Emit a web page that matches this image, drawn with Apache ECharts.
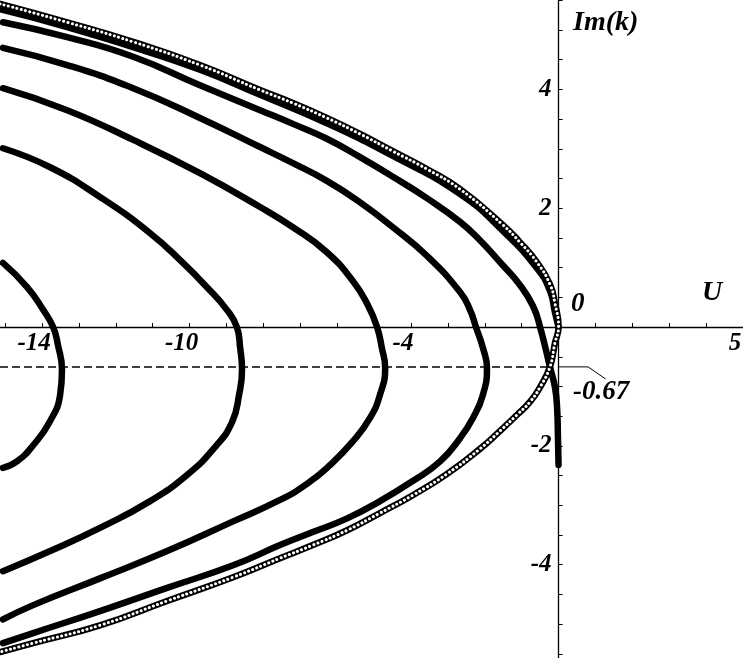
<!DOCTYPE html>
<html>
<head>
<meta charset="utf-8">
<script src="https://cdn.jsdelivr.net/npm/echarts@6/dist/echarts.min.js"></script>
<style>
  html, body { margin: 0; padding: 0; background: #fff; }
  #chart { width: 743px; height: 658px; }
</style>
</head>
<body>
<div id="chart"></div>
<script>
// axis ranges and ticks (U horizontal, Im(k) vertical)
const xRange = [-15.14, 5]
const yRange = [-5.57, 5.505]
const xTicks = [-15, -14, -13, -12, -11, -10, -9, -8, -7, -6, -5, -4, -3, -2, -1, 0, 1, 2, 3, 4, 5]
const xTickLabels = [-14, -10, -4, 5]
const yTicks = [-5.5, -5, -4.5, -4, -3.5, -3, -2.5, -2, -1.5, -1, -0.5, 0, 0.5, 1, 1.5, 2, 2.5, 3, 3.5, 4, 4.5, 5, 5.5]
const yTickLabels = [4, 2, -2, -4]

// open-circle branch, top-left -> origin -> bottom-left
const curveHollow = [[-15.14, 5.44], [-13.32, 5.13], [-11.53, 4.80], [-9.72, 4.41], [-8.09, 3.99], [-7.20, 3.77],
  [-6.28, 3.52], [-5.38, 3.25], [-4.49, 2.96], [-3.57, 2.66], [-2.67, 2.32], [-1.51, 1.72], [-1.05, 1.43],
  [-0.585, 1.09], [-0.233, 0.72], [-0.098, 0.40], [0, 0], [-0.098, -0.27], [-0.233, -0.67], [-0.50, -1.01],
  [-0.775, -1.26], [-1.13, -1.48], [-1.59, -1.75], [-2.13, -2.05], [-3.02, -2.47], [-3.95, -2.83], [-4.84, -3.13],
  [-5.73, -3.42], [-6.66, -3.67], [-7.55, -3.89], [-8.82, -4.21], [-10.61, -4.61], [-12.43, -5.02],
  [-14.24, -5.32], [-15.14, -5.47]]

// filled branch lying just under the open circles
const curveF = [[-15.14, 5.35], [-13.32, 5.05], [-11.53, 4.71], [-9.72, 4.33], [-8.09, 3.91], [-6.28, 3.43],
  [-4.49, 2.88], [-2.67, 2.24], [-1.51, 1.62], [-0.585, 0.99], [-0.233, 0.61], [-0.098, 0.25], [0, 0]]

const curveA = [[-15.06, 5.13], [-13.32, 4.88], [-11.53, 4.55], [-9.72, 4.07], [-8.09, 3.65], [-7.20, 3.42],
  [-6.28, 3.17], [-5.38, 2.86], [-4.49, 2.53], [-3.57, 2.17], [-2.67, 1.77], [-2.13, 1.46], [-1.51, 1.04],
  [-1.05, 0.71], [-0.69, 0.35], [-0.50, 0], [-0.233, -0.67], [-0.098, -1.01], [-0.04, -1.35],
  [-0.016, -1.85], [0, -2.32]]

const curveB = [[-15.06, 4.70], [-13.32, 4.41], [-11.53, 4.02], [-9.72, 3.52], [-8.09, 3.03], [-7.20, 2.76],
  [-6.28, 2.46], [-5.38, 2.10], [-4.49, 1.68], [-3.57, 1.20], [-2.67, 0.59], [-2.40, 0.29], [-2.24, 0],
  [-2.05, -0.35], [-1.94, -0.69], [-2.05, -1.14], [-2.32, -1.53], [-2.67, -1.87], [-3.21, -2.26], [-3.95, -2.59],
  [-4.84, -2.93], [-5.73, -3.22], [-6.66, -3.45], [-7.55, -3.67], [-8.82, -4.01], [-10.61, -4.39],
  [-12.43, -4.78], [-14.24, -5.15], [-15.06, -5.32]]

const curveC = [[-15.06, 4.02], [-13.32, 3.65], [-11.53, 3.15], [-9.72, 2.59], [-8.09, 2.02], [-7.20, 1.68],
  [-6.28, 1.26], [-5.57, 0.77], [-5.17, 0.37], [-4.92, 0], [-4.79, -0.35], [-4.70, -0.69], [-4.84, -1.14],
  [-5.11, -1.53], [-5.57, -1.92], [-6.19, -2.32], [-6.82, -2.64], [-7.55, -2.91], [-8.82, -3.27],
  [-10.61, -3.77], [-12.43, -4.23], [-14.24, -4.68], [-15.06, -4.92]]

const curveD = [[-15.06, 3.01], [-13.78, 2.69], [-12.43, 2.19], [-11.07, 1.58], [-10.18, 1.08], [-9.53, 0.67],
  [-8.99, 0.29], [-8.72, 0], [-8.63, -0.35], [-8.58, -0.72], [-8.66, -1.14], [-8.85, -1.60], [-9.31, -2.02],
  [-10.07, -2.49], [-11.07, -2.93], [-12.43, -3.38], [-13.78, -3.77], [-15.06, -4.11]]

const curveE = [[-15.06, 1.08], [-14.40, 0.67], [-13.97, 0.29], [-13.70, 0], [-13.57, -0.30], [-13.46, -0.72],
  [-13.51, -1.14], [-13.78, -1.58], [-14.24, -1.99], [-14.68, -2.26], [-15.06, -2.37]]

// Im(k) = -0.67 guide and its callout
const guideLine = [[-15.14, -0.67], [-0.2, -0.67]]
const calloutLine = [[0, -0.67], [0.8, -0.67], [1.28, -0.875]]

const W = 743, H = 658
const FONT = '"Liberation Serif", "Times New Roman", serif'
const labelStyle = { fontFamily: FONT, fontStyle: 'italic', fontWeight: 'bold', fontSize: 25, color: '#000' }
const SMOOTH = 0.5

// put each axis through the other one's zero (v6 keeps labels at the edge with onZero)
const xAxisOffset = -H * (0 - yRange[0]) / (yRange[1] - yRange[0])
const yAxisOffset = -W * (0 - xRange[0]) / (xRange[1] - xRange[0])

function filled(data) {
  return {
    type: 'line', data, showSymbol: false, smooth: SMOOTH, silent: true,
    lineStyle: { color: '#000', width: 6.5, cap: 'round', join: 'round' },
  }
}

const chart = echarts.init(document.getElementById('chart'), null, { renderer: 'canvas' })

chart.setOption({
  animation: false,
  backgroundColor: '#fff',
  grid: { left: 0, right: 0, top: 0, bottom: 0, containLabel: false, outerBoundsMode: 'none' },
  xAxis: {
    type: 'value', min: xRange[0], max: xRange[1], position: 'bottom', offset: xAxisOffset,
    axisLine: { onZero: false, lineStyle: { color: '#000', width: 1.3 } },
    axisTick: { customValues: xTicks, inside: true, length: 4, lineStyle: { color: '#000' } },
    axisLabel: { customValues: xTickLabels, ...labelStyle, margin: 4, padding: [0, 16, 0, 0] },
    splitLine: { show: false },
  },
  yAxis: {
    type: 'value', min: yRange[0], max: yRange[1], position: 'left', offset: yAxisOffset,
    axisLine: { onZero: false, lineStyle: { color: '#000', width: 1.3 } },
    axisTick: { customValues: yTicks, inside: true, length: 4, lineStyle: { color: '#000' } },
    axisLabel: { customValues: yTickLabels, ...labelStyle, margin: 7 },
    splitLine: { show: false },
  },
  series: [
    {
      type: 'line', data: guideLine, showSymbol: false, silent: true,
      lineStyle: { color: '#000', width: 1.5, type: [8, 4] },
    },
    {
      type: 'line', data: calloutLine, showSymbol: false, silent: true,
      lineStyle: { color: '#000', width: 1 },
    },
    filled(curveE),
    filled(curveD),
    filled(curveC),
    filled(curveB),
    filled(curveA),
    filled(curveF),
    // open circles: black band with white dots on top
    {
      type: 'line', data: curveHollow, showSymbol: false, smooth: SMOOTH, silent: true,
      lineStyle: { color: '#000', width: 6.5, cap: 'round', join: 'round' },
    },
    {
      type: 'line', data: curveHollow, showSymbol: false, smooth: SMOOTH, silent: true,
      lineStyle: { color: '#fff', width: 3, cap: 'round', type: [0.1, 4.3] },
    },
  ],
  graphic: [
    { type: 'text', left: 573, top: 9, style: { text: 'Im(k)', font: 'italic bold 28px ' + FONT, fill: '#000' } },
    { type: 'text', left: 702, top: 279, style: { text: 'U', font: 'italic bold 28px ' + FONT, fill: '#000' } },
    { type: 'text', left: 571, top: 291, style: { text: '0', font: 'italic bold 27px ' + FONT, fill: '#000' } },
    { type: 'text', left: 573, top: 379, style: { text: '-0.67', font: 'italic bold 27px ' + FONT, fill: '#000' } },
  ],
})
</script>
</body>
</html>
